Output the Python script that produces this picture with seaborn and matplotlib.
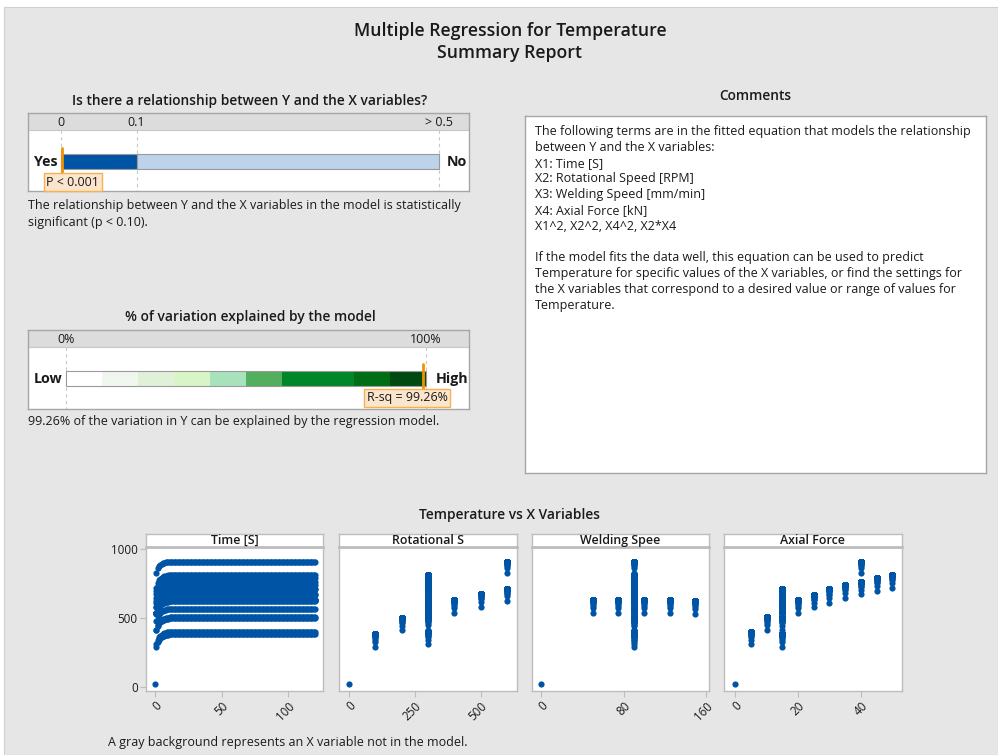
import numpy as np
import pandas as pd
import matplotlib
matplotlib.use("Agg")
import matplotlib.pyplot as plt
from matplotlib.patches import Rectangle
import matplotlib.transforms as mtransforms
import seaborn as sns

sns.set_theme(style="white")
plt.rcParams["font.family"] = ["Open Sans", "DejaVu Sans"]

W, H = 998, 755

# ---------------- report values ----------------
p_value = 0.001
alpha_level = 0.10
p_max = 0.5
p_ticks = [0, 0.1, 0.5]
p_tick_labels = ["0", "0.1", "> 0.5"]

r_sq = 99.26
r_edges = [0, 10, 20, 30, 40, 50, 60, 80, 90, 100]
r_colors = ["#FFFFFF", "#EFF7EE", "#E0F0D9", "#D9F5C5", "#A8E2BD",
            "#53AF5D", "#00872A", "#006E14", "#004A12"]
r_ticks = [0, 100]
r_tick_labels = ["0%", "100%"]

# ---------------- experimental runs ----------------
run_rot = [100, 200, 400, 500, 600, 600, 300, 300, 300, 300, 300,
           300, 300, 300, 300, 300, 300, 300, 300, 300, 300]
run_weld = [90, 90, 90, 90, 90, 90, 50, 75, 100, 125, 150,
            90, 90, 90, 90, 90, 90, 90, 90, 90, 90]
run_axial = [15, 15, 15, 15, 15, 40, 15, 15, 15, 15, 15,
             5, 10, 20, 25, 30, 35, 40, 45, 50, 15]
# temperature during the first seconds of each run
run_ramp = [
    [292, 326, 342, 353, 361, 367, 371, 375, 378, 380],
    [411, 444, 460, 470, 478, 483, 488, 491, 494, 496],
    [536, 571, 588, 599, 607, 612, 617, 621, 623, 626],
    [580, 616, 634, 645, 654, 660, 664, 668, 671, 674],
    [623, 662, 675, 684, 691, 696, 700, 703, 706, 708],
    [824, 860, 874, 883, 890, 895, 899, 902, 904, 906],
    [535, 572, 589, 601, 610, 616, 620, 624, 627, 630],
    [535, 571, 588, 600, 608, 614, 619, 622, 625, 628],
    [536, 572, 589, 601, 609, 615, 620, 623, 626, 629],
    [534, 570, 587, 598, 606, 612, 617, 620, 623, 626],
    [530, 564, 580, 591, 599, 605, 609, 613, 616, 618],
    [309, 344, 361, 372, 380, 385, 390, 394, 396, 399],
    [413, 448, 465, 476, 484, 489, 494, 498, 500, 503],
    [534, 570, 588, 599, 608, 614, 618, 622, 625, 628],
    [578, 612, 628, 639, 647, 652, 656, 660, 663, 665],
    [611, 648, 665, 677, 686, 692, 696, 700, 703, 706],
    [647, 682, 699, 710, 718, 723, 728, 732, 734, 737],
    [671, 706, 723, 734, 742, 747, 752, 756, 758, 761],
    [698, 734, 751, 762, 770, 776, 781, 784, 787, 790],
    [720, 755, 772, 783, 791, 796, 801, 805, 807, 810],
    [478, 512, 528, 539, 547, 553, 557, 561, 564, 566],
]
# steady temperature reached by each run
run_plateau = [382, 498, 628, 676, 710, 908, 632, 630, 631, 628, 620,
               401, 505, 630, 667, 708, 739, 763, 792, 812, 568]
time_s = np.arange(1, 121)
ambient_temp = 25

rows = [dict(t=0, rot=0, weld=0, axial=0, temp=ambient_temp)]
for rot, weld, axial, ramp, plateau in zip(run_rot, run_weld, run_axial,
                                           run_ramp, run_plateau):
    temps = list(ramp) + [plateau] * (len(time_s) - len(ramp))
    for t, temp in zip(time_s, temps):
        rows.append(dict(t=t, rot=rot, weld=weld, axial=axial, temp=temp))
df = pd.DataFrame(rows).rename(columns={
    "t": "Time [S]", "rot": "Rotational S", "weld": "Welding Spee",
    "axial": "Axial Force", "temp": "Temperature"})

# ---------------- figure ----------------
BG = "#E6E6E6"
BORDER = "#A6A6A6"
BLUE = "#0054A6"
ORANGE = "#F39200"
TXT = "#1A1A1A"

FS_BODY = 9.0
FS_HEAD = 9.9
FS_TITLE = 12.7
FS_SMALL = 8.9
FS_TICK = 8.4

fig = plt.figure(figsize=(W / 100, H / 100), dpi=100)
fig.patch.set_facecolor("white")
fig.add_artist(Rectangle((4 / W, 0), (W - 4) / W, (H - 7) / H,
                         transform=fig.transFigure, facecolor=BG,
                         edgecolor="#D0D0D0", lw=0.8, zorder=0))


def fx(x):
    return x / W


def fy(y):
    return 1 - y / H


def add_ax(x0, y0, x1, y1):
    return fig.add_axes([x0 / W, 1 - y1 / H, (x1 - x0) / W, (y1 - y0) / H])


def ftext(x, y, s, **kw):
    kw.setdefault("color", TXT)
    kw.setdefault("va", "center")
    fig.text(fx(x), fy(y + 1.5), s, **kw)


def frame(ax, color=BORDER, lw=1.0):
    for sp in ax.spines.values():
        sp.set_visible(True)
        sp.set_color(color)
        sp.set_linewidth(lw)
    ax.set_xticks([])
    ax.set_yticks([])


# titles
ftext(510, 30, "Multiple Regression for Temperature", ha="center",
      fontsize=FS_TITLE, fontweight="semibold")
ftext(510, 51, "Summary Report", ha="center", fontsize=FS_TITLE,
      fontweight="semibold")

# ---------------- p-value bar ----------------
ftext(250, 99, "Is there a relationship between Y and the X variables?",
      ha="center", fontsize=FS_HEAD, fontweight="semibold")
axp = add_ax(28, 113, 469, 191)
p_scale = (439 - 61) / p_max
axp.set_xlim(-(61 - 28) / p_scale, (469 - 61) / p_scale)
axp.set_ylim(191, 113)
axp.set_facecolor("white")
frame(axp)
axp.axhspan(113, 130, color="#DCDCDC", lw=0)
axp.axhline(130, color="#C8C8C8", lw=0.8)
for t, lab in zip(p_ticks, p_tick_labels):
    axp.plot([t, t], [130, 191], ls=(0, (3, 3)), color="#C8C8C8", lw=0.8)
    axp.text(t, 123, lab, ha="center", va="center", fontsize=FS_SMALL, color=TXT)
axp.barh(161.5, alpha_level, left=0, height=15, color=BLUE,
         edgecolor="#9A9A9A", lw=0.8, zorder=3)
axp.barh(161.5, p_max - alpha_level, left=alpha_level, height=15,
         color="#BDD2EB", edgecolor="#9A9A9A", lw=0.8, zorder=3)
axp.plot([p_value, p_value], [148, 176], color=ORANGE, lw=2, zorder=4)
off = mtransforms.offset_copy(axp.transData, fig=fig, x=11, y=0, units="dots")
axp.text(p_value, 182, "P < 0.001", transform=off, ha="center", va="center",
         fontsize=FS_SMALL, color=TXT, zorder=5,
         bbox=dict(boxstyle="square,pad=0.2", fc="#FBE5CD", ec="#F7B24F", lw=1))
ftext(34, 161, "Yes", ha="left", fontsize=10.3, fontweight="bold")
ftext(467, 161, "No", ha="right", fontsize=10.3, fontweight="bold")
ftext(28, 204, "The relationship between Y and the X variables in the model is statistically",
      ha="left", fontsize=FS_BODY)
ftext(28, 221, "significant (p < 0.10).", ha="left", fontsize=FS_BODY)

# ---------------- R-sq bar ----------------
ftext(250, 315, "% of variation explained by the model", ha="center",
      fontsize=FS_HEAD, fontweight="semibold")
axr = add_ax(28, 330, 469, 409)
r_scale = (426 - 66) / 100
axr.set_xlim(-(66 - 28) / r_scale, (469 - 66) / r_scale)
axr.set_ylim(409, 330)
axr.set_facecolor("white")
frame(axr)
axr.axhspan(330, 346.5, color="#DCDCDC", lw=0)
axr.axhline(346.5, color="#C8C8C8", lw=0.8)
for t, lab in zip(r_ticks, r_tick_labels):
    axr.plot([t, t], [346.5, 409], ls=(0, (3, 3)), color="#C8C8C8", lw=0.8)
    axr.text(t, 339.5, lab, ha="center", va="center", fontsize=FS_SMALL, color=TXT)
lefts = r_edges[:-1]
widths = np.diff(r_edges)
axr.barh([378.5] * len(lefts), widths, left=lefts, height=15, color=r_colors,
         edgecolor="none", zorder=3)
axr.barh(378.5, r_edges[-1], left=0, height=15, color="none",
         edgecolor="#9A9A9A", lw=0.8, zorder=4)
axr.plot([r_sq, r_sq], [364, 392], color=ORANGE, lw=2, zorder=5)
off = mtransforms.offset_copy(axr.transData, fig=fig, x=-16, y=0, units="dots")
axr.text(r_sq, 398, "R-sq = 99.26%", transform=off, ha="center", va="center",
         fontsize=FS_SMALL, color=TXT, zorder=6,
         bbox=dict(boxstyle="square,pad=0.2", fc="#FBE5CD", ec="#F7B24F", lw=1))
ftext(34, 377, "Low", ha="left", fontsize=10.3, fontweight="bold")
ftext(468, 377, "High", ha="right", fontsize=10.3, fontweight="bold")
ftext(28, 420, "99.26% of the variation in Y can be explained by the regression model.",
      ha="left", fontsize=FS_BODY)

# ---------------- comments ----------------
ftext(755, 95, "Comments", ha="center", fontsize=FS_HEAD, fontweight="semibold")
axc = add_ax(525, 116, 986, 473)
axc.set_facecolor("white")
frame(axc)
comment_lines = [
    "The following terms are in the fitted equation that models the relationship",
    "between Y and the X variables:",
    "X1: Time [S]",
    "X2: Rotational Speed [RPM]",
    "X3: Welding Speed [mm/min]",
    "X4: Axial Force [kN]",
    "X1^2, X2^2, X4^2, X2*X4",
    "",
    "If the model fits the data well, this equation can be used to predict",
    "Temperature for specific values of the X variables, or find the settings for",
    "the X variables that correspond to a desired value or range of values for",
    "Temperature.",
]
for i, line in enumerate(comment_lines):
    ftext(535, 130 + i * 15.8, line, ha="left", fontsize=FS_BODY)

# ---------------- scatter panels ----------------
ftext(510, 513, "Temperature vs X Variables", ha="center", fontsize=FS_HEAD,
      fontweight="semibold")
panels = [
    ("Time [S]", 146, 323, (-6.75, 126), [0, 50, 100]),
    ("Rotational S", 339, 517, (-38, 638), [0, 250, 500]),
    ("Welding Spee", 532, 709, (-9.1, 163.2), [0, 80, 160]),
    ("Axial Force", 724, 902, (-3.6, 53.1), [0, 20, 40]),
]
for i, (col, x0, x1, xlim, xticks) in enumerate(panels):
    ax = add_ax(x0, 547, x1, 691)
    ax.set_facecolor("white")
    sns.scatterplot(data=df, x=col, y="Temperature", ax=ax, color=BLUE,
                    s=20, linewidth=0, legend=False, zorder=3)
    ax.set_xlim(*xlim)
    ax.set_ylim(-29, 1014)
    for sp in ax.spines.values():
        sp.set_visible(True)
        sp.set_color("#BDBDBD")
        sp.set_linewidth(1)
    ax.set_xlabel("")
    ax.set_ylabel("")
    ax.set_xticks(xticks)
    ax.set_xticklabels([str(v) for v in xticks], rotation=45, ha="right",
                       va="top", rotation_mode="anchor", fontsize=FS_TICK,
                       color=TXT)
    ax.tick_params(axis="x", bottom=True, length=4, width=0.8,
                   color="#BDBDBD", pad=2)
    if i == 0:
        ax.set_yticks([0, 500, 1000])
        ax.set_yticklabels(["0", "500", "1000"], fontsize=FS_TICK, color=TXT)
        ax.tick_params(axis="y", left=True, length=4, width=0.8,
                       color="#BDBDBD", pad=2)
    else:
        ax.set_yticks([])
    ax.grid(False)

    st = add_ax(x0, 534, x1, 547)
    st.set_facecolor("white")
    frame(st, color="#BDBDBD")
    st.spines["bottom"].set_linewidth(2)
    st.text(0.5, 0.5, col, transform=st.transAxes, ha="center", va="center",
            fontsize=8.9, fontweight="semibold", color=TXT)

ftext(108, 741, "A gray background represents an X variable not in the model.",
      ha="left", fontsize=FS_BODY)

fig.savefig("out.png", dpi=100, facecolor=fig.get_facecolor())
